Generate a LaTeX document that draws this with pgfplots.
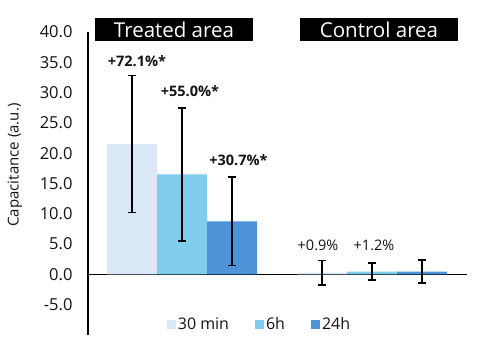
\documentclass[border=0pt]{standalone}
\usepackage{pgfplots}
\pgfplotsset{compat=1.18}
\usepackage{fontspec}
\setmainfont{Open Sans}
\definecolor{cA}{RGB}{218,232,246}
\definecolor{cB}{RGB}{127,204,236}
\definecolor{cC}{RGB}{76,147,216}
\definecolor{txt}{RGB}{20,20,20}
\begin{document}
\begin{tikzpicture}[x=1bp,y=1bp]
\path[use as bounding box] (0,0) rectangle (480,344);
\begin{axis}[
  at={(88bp,9bp)}, anchor=south west,
  scale only axis, width=379bp, height=303bp,
  xmin=88, xmax=467, ymin=-10, ymax=40,
  axis y line*=left, axis x line*=middle,
  axis line style={black, line width=1.2bp},
  xtick=\empty,
  ytick={-5,0,...,40},
  major tick length=0pt,
  yticklabel style={font=\fontsize{16.5bp}{18bp}\selectfont, text=txt, /pgf/number format/fixed, /pgf/number format/fixed zerofill, /pgf/number format/precision=1},
  /pgf/number format/assume math mode=true,
  yticklabel style={xshift=-12bp},
  clip=false,
  legend columns=3,
  legend style={draw=none, fill=none, at={(0.4525,0.036)}, anchor=center, font=\fontsize{16bp}{17bp}\selectfont, text=txt,
    /tikz/every even column/.append style={column sep=24bp}},
  legend image code/.code={\fill[#1] (0bp,-4.5bp) rectangle (9bp,4.5bp);},
  mybar/.style={
    ybar, bar width=50, bar shift=0pt, draw=none, fill=#1,
    error bars/y dir=both, error bars/y explicit,
    error bars/error bar style={black, line width=1.7bp},
    error bars/error mark options={black, line width=1.7bp, mark size=4bp, rotate=90}
  },
]
\addplot[mybar=cA] coordinates {(132,21.5) +- (0,11.3) (322,0.3) +- (0,2.0)};
\addplot[mybar=cB] coordinates {(182,16.5) +- (0,11.0) (372,0.45) +- (0,1.4)};
\addplot[mybar=cC] coordinates {(232,8.75) +- (0,7.3) (422,0.45) +- (0,1.9)};
\legend{30 min, 6h, 24h}
\node[font=\bfseries\fontsize{14.5bp}{16bp}\selectfont, text=txt] at (axis cs:137,35.2) {+72.1\%*};
\node[font=\bfseries\fontsize{14.5bp}{16bp}\selectfont, text=txt] at (axis cs:190,30.2) {+55.0\%*};
\node[font=\bfseries\fontsize{14.5bp}{16bp}\selectfont, text=txt] at (axis cs:238.5,18.8) {+30.7\%*};
\node[font=\fontsize{14.5bp}{16bp}\selectfont, text=txt] at (axis cs:318,4.8) {+0.9\%};
\node[font=\fontsize{14.5bp}{16bp}\selectfont, text=txt] at (axis cs:374,4.8) {+1.2\%};
\end{axis}
\node[rotate=90, font=\fontsize{15bp}{16bp}\selectfont, text=txt] at (15,179) {Capacitance (a.u.)};
\node[fill=black, text=white, minimum width=158bp, minimum height=23bp, inner sep=0pt, font=\fontsize{20.5bp}{22bp}\selectfont] at (174,314.5) {Treated area};
\node[fill=black, text=white, minimum width=158bp, minimum height=23bp, inner sep=0pt, font=\fontsize{20.5bp}{22bp}\selectfont] at (379,314.5) {Control area};
\end{tikzpicture}
\end{document}
